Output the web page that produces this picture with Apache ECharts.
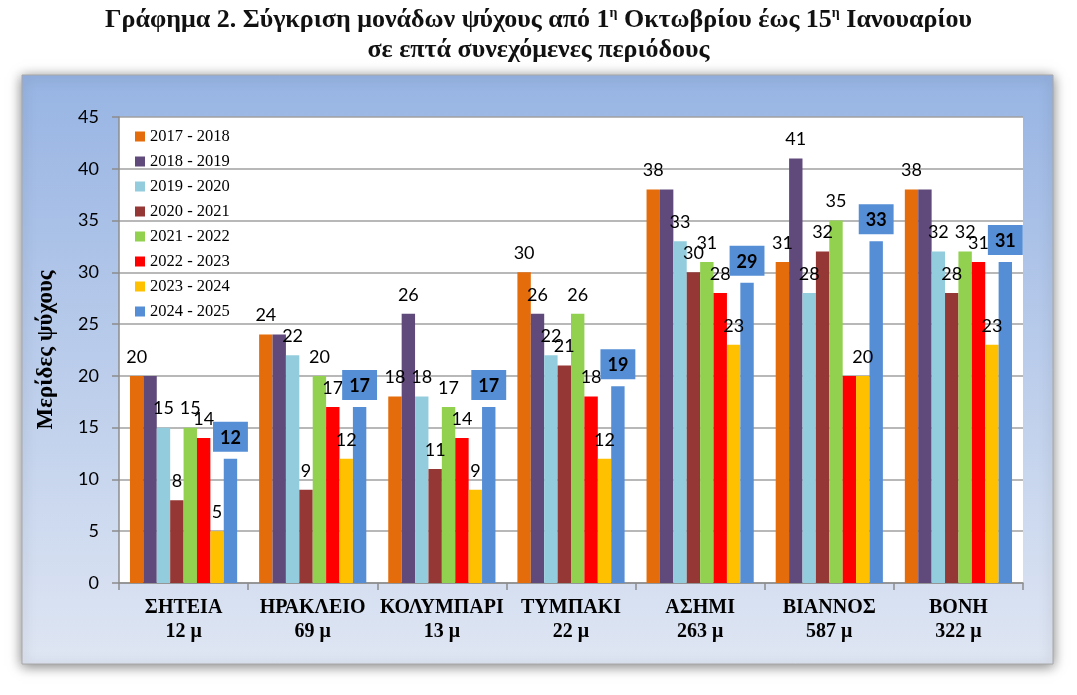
<!DOCTYPE html>
<html>
<head>
<meta charset="utf-8">
<script src="https://cdn.jsdelivr.net/npm/echarts@6/dist/echarts.min.js"></script>
<style>
html,body{margin:0;padding:0;background:#fff;}
#main{width:1077px;height:695px;}
</style>
</head>
<body>
<div id="main"></div>
<script>
const categories = ['ΣΗΤΕΙΑ\n12 μ', 'ΗΡΑΚΛΕΙΟ\n69 μ', 'ΚΟΛΥΜΠΑΡΙ\n13 μ', 'ΤΥΜΠΑΚΙ\n22 μ', 'ΑΣΗΜΙ\n263 μ', 'ΒΙΑΝΝΟΣ\n587 μ', 'ΒΟΝΗ\n322 μ'];
const seriesNames = ['2017 - 2018', '2018 - 2019', '2019 - 2020', '2020 - 2021', '2021 - 2022', '2022 - 2023', '2023 - 2024', '2024 - 2025'];
const s2017 = [20, 24, 18, 30, 38, 31, 38];
const s2018 = [20, 24, 26, 26, 38, 41, 38];
const s2019 = [15, 22, 18, 22, 33, 28, 32];
const s2020 = [8, 9, 11, 21, 30, 32, 28];
const s2021 = [15, 20, 17, 26, 31, 35, 32];
const s2022 = [14, 17, 14, 18, 28, 20, 31];
const s2023 = [5, 12, 9, 12, 23, 20, 23];
const s2024 = [12, 17, 17, 19, 29, 33, 31];
const seriesValues = [s2017, s2018, s2019, s2020, s2021, s2022, s2023, s2024];
const colors = ['#e46c0a', '#604a7b', '#93cddd', '#953735', '#92d050', '#ff0000', '#ffc000', '#558ed5'];
// labels not visible in the reference: [seriesIndex, categoryIndex]
const hiddenLabels = [[1, 0], [1, 1], [1, 4], [1, 6], [5, 5]];
const yTicks = [0, 5, 10, 15, 20, 25, 30, 35, 40, 45];

const chart = echarts.init(document.getElementById('main'));

const series = seriesValues.map((vals, si) => {
  const isLast = si === seriesValues.length - 1;
  return {
    name: seriesNames[si],
    type: 'bar',
    barGap: 0,
    barCategoryGap: '17%',
    itemStyle: { color: colors[si] },
    data: vals.map((v, ci) => {
      const hide = hiddenLabels.some(h => h[0] === si && h[1] === ci);
      return hide ? { value: v, label: { show: false } } : v;
    }),
    label: isLast ? {
      show: true, position: 'top', distance: 7,
      fontFamily: 'Lato', fontSize: 18, fontWeight: 'bold', color: '#000',
      backgroundColor: '#558ed5', padding: [7, 7, 5, 7]
    } : {
      show: true, position: 'top', distance: 10,
      fontFamily: 'Lato', fontSize: 18, color: '#000'
    },
    z: 2
  };
});

chart.setOption({
  animation: false,
  color: colors,
  graphic: [{
    type: 'rect',
    z: -10,
    shape: { x: 22, y: 75, width: 1031, height: 589 },
    style: {
      fill: new echarts.graphic.LinearGradient(0, 0, 0, 1, [
        { offset: 0, color: '#97b4e3' },
        { offset: 1, color: '#dfe6f3' }
      ]),
      stroke: '#a8a8a8', lineWidth: 1,
      shadowColor: 'rgba(0,0,0,0.5)', shadowBlur: 12, shadowOffsetX: 0, shadowOffsetY: 2
    }
  }],
  title: {
    left: 'center', top: 0,
    text: '{a|Γράφημα 2. Σύγκριση μονάδων ψύχους από 1}{s|η}{a| Οκτωβρίου έως 15}{s|η}{a| Ιανουαρίου}\n{a|σε επτά συνεχόμενες περιόδους}',
    textStyle: {
      rich: {
        a: { fontFamily: 'Liberation Serif', fontWeight: 'bold', fontSize: 26, color: '#111', lineHeight: 30 },
        s: { fontFamily: 'Liberation Serif', fontWeight: 'bold', fontSize: 14, color: '#111', lineHeight: 30, verticalAlign: 'top', padding: [1, 0, 0, 0] }
      }
    }
  },
  legend: {
    orient: 'vertical', left: 130, top: 123,
    itemWidth: 10, itemHeight: 10, itemGap: 8,
    icon: 'rect',
    textStyle: { fontFamily: 'Liberation Serif', fontSize: 16.5, color: '#000' },
    data: seriesNames
  },
  grid: {
    left: 119, right: 54, top: 117, bottom: 112,
    show: true, backgroundColor: '#ffffff', borderWidth: 0
  },
  xAxis: {
    type: 'category',
    data: categories,
    axisLine: { show: true, lineStyle: { color: '#8c8c8c', width: 1.5 } },
    axisTick: { show: true, alignWithLabel: false, length: 7, lineStyle: { color: '#8c8c8c', width: 1.5 } },
    axisLabel: {
      margin: 13, fontFamily: 'Liberation Serif', fontWeight: 'bold', fontSize: 20,
      color: '#000', lineHeight: 24, interval: 0
    }
  },
  yAxis: {
    type: 'value',
    min: yTicks[0], max: yTicks[yTicks.length - 1], interval: 5,
    name: 'Μερίδες ψύχους',
    nameLocation: 'middle', nameRotate: 90, nameGap: 61,
    nameTextStyle: { fontFamily: 'Liberation Serif', fontWeight: 'bold', fontSize: 23, color: '#000' },
    axisLine: { show: true, lineStyle: { color: '#8c8c8c', width: 1.5 } },
    axisTick: { show: true, length: 7, lineStyle: { color: '#8c8c8c', width: 1.5 } },
    axisLabel: { margin: 20, fontFamily: 'Lato', fontSize: 18, color: '#000' },
    splitLine: { show: true, lineStyle: { color: '#a0a0a0', width: 1.5 } }
  },
  series: series
});
</script>
</body>
</html>
